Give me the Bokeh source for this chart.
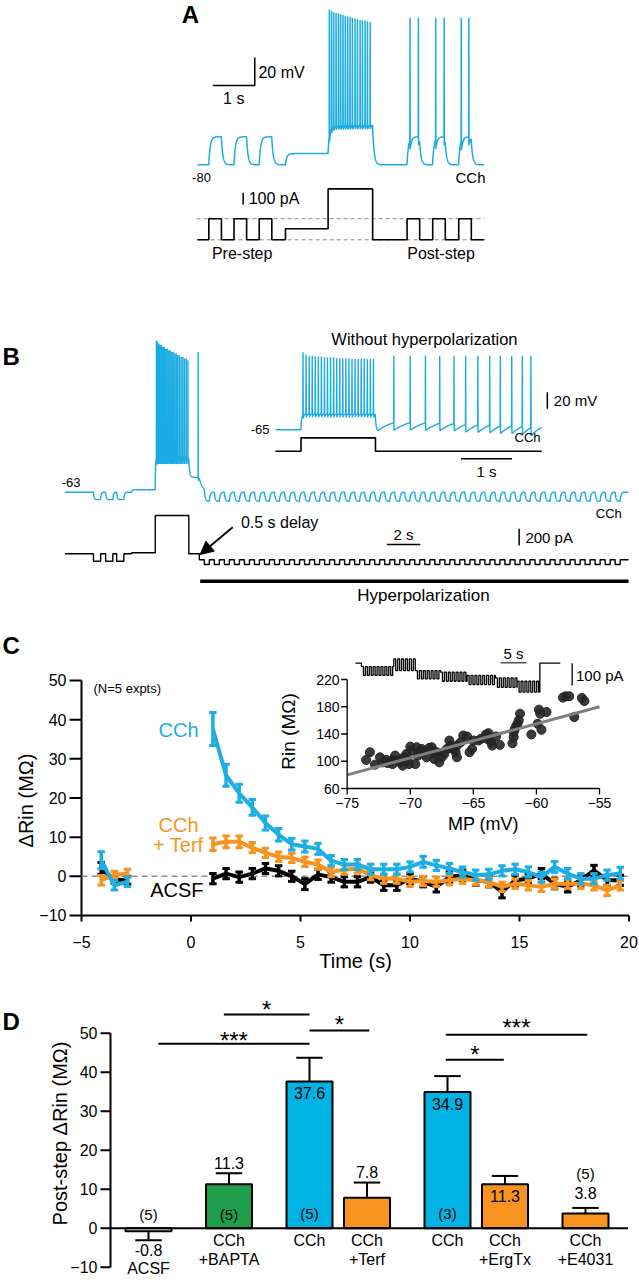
import numpy as np
from bokeh.plotting import figure
from bokeh.layouts import column
from bokeh.models import Range1d, Label, Arrow, NormalHead
from bokeh.embed import file_html
from bokeh.resources import INLINE

FONT = "Liberation Sans"
TRACE_BLUE = "#1AABE2"
LINE_BLUE = "#1DAEE4"
ORANGE = "#F7931E"
GREEN = "#1E9E4A"
BAR_BLUE = "#00B3E4"
W = 639

# ======================= DATA =======================
# ---- Panel A (times in s, voltage in mV, current in pA) ----
A_pre_pulse_on = [0.27, 0.87, 1.47]
A_post_pulse_on = [4.99, 5.60, 6.22]
A_pulse_width = 0.30
A_hold_on, A_step_on, A_step_off, A_end = 2.095, 3.11, 4.17, 6.83
A_V_rest, A_V_pulse, A_V_hold, A_V_step, A_V_post = -80.0, -60.0, -72.0, -50.7, -60.0
A_I_pulse, A_I_hold, A_I_step = 180.0, 95.0, 435.0
A_step_spk_t = [3.14, 3.19, 3.245, 3.30, 3.355, 3.41, 3.465, 3.52, 3.575, 3.63, 3.69, 3.75,
                3.81, 3.87, 3.93, 3.99, 4.05, 4.11]
A_step_spk_pk = [31, 30, 29, 28.5, 28, 27.5, 27, 26.5, 26, 25.5, 25, 24.5, 24, 23.5, 23, 23, 22.5, 22]
A_post_spk_t = [5.06, 5.26, 5.67, 5.87, 6.28, 6.46]
A_post_spk_pk = [25, 25, 25, 25, 25, 25]

# ---- Panel B main trace ----
B_pre_pulse_on = [1.71, 2.44, 3.10]
B_pre_width = 0.43
B_hold_on, B_step_on, B_step_off, B_hyper_on, B_end = 4.0, 5.41, 7.42, 8.05, 33.75
B_hyp_first, B_hyp_period, B_hyp_width = 8.35, 0.6, 0.3
B_V_rest, B_V_pre, B_V_hold, B_V_step, B_V_adp, B_V_hyp, B_V_hyp_pulse = -63, -67.5, -61.5, -41.8, -54, -63, -68.5
B_I_pre, B_I_hold, B_I_step, B_I_hyp, B_I_hyp_pulse = -89, 12, 459, -72, -128
B_step_spk_t = [5.48, 5.55, 5.63, 5.71, 5.79, 5.87, 5.95, 6.04, 6.13, 6.22, 6.31, 6.40, 6.49,
                6.58, 6.67, 6.76, 6.86, 6.96, 7.06, 7.16, 7.27, 7.37]
B_step_spk_pk = [29, 28, 27, 26, 26, 25, 25, 24, 24, 23, 23, 22, 22, 21, 21, 20, 20, 19, 19, 18, 18, 17]
B_post_spk_t = [7.98]
B_post_spk_pk = [22]

# ---- Panel B inset (without hyperpolarization) ----
Bi_step_on, Bi_step_off, Bi_end = 0.5, 1.96, 5.22
Bi_V_rest, Bi_V_step, Bi_V_post = -65, -45.8, -50
Bi_I_step = 160
Bi_step_spk_t = [0.54, 0.60, 0.66, 0.72, 0.78, 0.84, 0.90, 0.96, 1.02, 1.08, 1.14, 1.20, 1.26,
                 1.32, 1.38, 1.44, 1.50, 1.56, 1.62, 1.68, 1.74, 1.80, 1.86, 1.92]
Bi_step_spk_pk = [28, 25, 24, 24, 23, 23, 23, 22, 22, 22, 22, 21, 21, 21, 21, 21, 20, 20, 20,
                  20, 20, 20, 20, 20]
Bi_post_spk_t = [2.32, 2.64, 2.94, 3.22, 3.50, 3.73, 3.97, 4.20, 4.41, 4.63, 4.84, 5.01]
Bi_post_spk_pk = [24, 24, 24, 24, 24, 24, 24, 24, 24, 24, 24, 24]

# ---- Panel C main ----
C_t_pre = [-4.1, -3.5, -2.9]
C_t_post = [1.0, 1.6, 2.2, 2.8, 3.4, 4.0, 4.6, 5.2, 5.8, 6.4, 7.0, 7.6, 8.2, 8.8, 9.4, 10.0,
            10.6, 11.2, 11.8, 12.4, 13.0, 13.6, 14.2, 14.8, 15.4, 16.0, 16.6, 17.2, 17.8, 18.4,
            19.0, 19.6]
CCh_pre = [4.1, -2.3, -1.4]
CCh_pre_sem = [2.2, 1.2, 1.2]
CCh_post = [37.6, 25.8, 21.2, 17.6, 13.6, 10.6, 8.2, 7.6, 7.0, 4.0, 3.0, 3.0, 1.8, 1.8, 1.8,
            2.4, 3.7, 2.8, 2.0, 1.1, 0.3, 0.5, 1.4, 1.8, 1.1, -0.2, 2.4, 0.7, -0.6, -0.6, 0.3, 0.8]
CCh_post_sem = [4.2, 2.8, 2.3, 2.0, 1.8, 1.6, 1.5, 1.4, 1.4, 1.3, 1.3, 1.3, 1.3, 1.3, 1.3, 1.3,
                1.4, 1.3, 1.3, 1.3, 1.3, 1.3, 1.3, 1.3, 1.3, 1.3, 1.4, 1.3, 1.3, 1.3, 1.3, 1.5]
Terf_pre = [-1.0, 0.3, 0.8]
Terf_pre_sem = [1.2, 1.0, 1.0]
Terf_post = [8.2, 8.8, 8.8, 7.3, 6.0, 5.0, 4.7, 3.7, 3.0, 1.1, 1.7, 2.0, 0.3, -0.6, -0.6, -1.4,
             -1.2, -1.4, -1.0, -0.6, -1.0, -1.4, -2.7, -1.9, -2.3, -2.7, -1.9, -1.9, -1.9, -2.3,
             -3.6, -2.3]
Terf_post_sem = [1.6, 1.5, 1.5, 1.3, 1.2, 1.2, 1.2, 1.2, 1.2, 1.2, 1.2, 1.2, 1.2, 1.2, 1.2, 1.2,
                 1.2, 1.2, 1.2, 1.2, 1.2, 1.2, 1.2, 1.2, 1.2, 1.2, 1.2, 1.2, 1.2, 1.2, 1.3, 1.2]
ACSF_pre = [2.0, -0.8, -1.0]
ACSF_pre_sem = [1.5, 1.0, 1.0]
ACSF_post = [-0.6, 0.7, -0.2, 0.7, 2.0, 1.4, 0.0, -2.0, 0.5, -0.2, -1.4, -1.4, -0.2, -2.3, -2.3,
             -0.6, -1.4, -2.7, -0.2, 0.3, -1.0, -1.4, -4.0, -1.0, -0.6, 0.7, -1.9, -2.7, -1.0,
             1.5, -1.0, -1.0]
ACSF_post_sem = [1.3, 1.3, 1.3, 1.3, 1.3, 1.3, 1.3, 1.4, 1.3, 1.3, 1.3, 1.3, 1.3, 1.3, 1.3, 1.3,
                 1.3, 1.3, 1.3, 1.3, 1.3, 1.3, 1.5, 1.3, 1.3, 1.3, 1.3, 1.3, 1.3, 1.3, 1.3, 1.3]
C_xticks = [-5, 0, 5, 10, 15, 20]
C_yticks = [-10, 0, 10, 20, 30, 40, 50]

# ---- Panel C inset: Rin vs membrane potential ----
MP = [-73.5, -73.2, -72.8, -72.4, -72.2, -71.8, -71.4, -71.2, -70.8, -70.6, -70.5, -70.3, -70.2,
      -70.0, -69.9, -69.6, -69.4, -69.2, -69.1, -68.9, -68.7, -68.5, -68.3, -68.1, -68.0, -67.9,
      -67.7, -67.5, -67.1, -66.9, -66.8, -66.6, -66.4, -66.3, -66.0, -65.8, -65.5, -65.3, -65.1,
      -65.0, -64.6, -64.4, -64.0, -63.8, -63.6, -63.5, -63.2, -62.9, -61.9, -61.8, -61.7, -61.5,
      -61.4, -61.3, -60.4, -59.9, -59.8, -59.7, -59.6, -59.2, -57.9, -57.7, -57.4, -57.0, -56.4,
      -56.2, -61.8, -61.6, -67.3, -71.4, -71.9, -71.0, -70.1, -66.3, -63.9, -68.3, -69.5]
Rin = [101.9, 113.2, 95.0, 105.8, 98.4, 97.4, 101.9, 108.3, 98.4, 93.5, 105.8, 110.7, 100.9,
       121.5, 115.6, 95.9, 108.3, 114.7, 118.1, 113.2, 105.8, 119.6, 116.6, 103.3, 110.7, 113.2,
       98.4, 105.8, 118.1, 130.4, 123.0, 118.1, 113.2, 105.8, 127.9, 137.8, 136.3, 113.2, 118.1,
       130.4, 130.4, 132.9, 139.3, 141.2, 127.9, 123.0, 136.3, 124.0, 126.5, 135.3, 147.6, 155.0,
       160.0, 169.8, 139.3, 155.0, 175.7, 169.8, 146.2, 172.3, 193.4, 195.4, 195.4, 164.9, 192.9,
       188.5, 142.7, 151.6, 110.7, 95.9, 101.9, 100.9, 95.9, 123.0, 132.9, 120.6, 120.6]
fit_mp = [-75.0, -55.0]
fit_slope, fit_at_minus75 = 5.0, 80.0
Ci_xticks = [-75, -70, -65, -60, -55]
Ci_yticks = [60, 100, 140, 180, 220]
# inset staircase current protocol (s, pA)
Ci_seg_t = [0.0, 1.15, 7.37, 11.54, 16.35, 21.47, 26.92, 31.09, 35.45]
Ci_hi = [0, -15, 19, -33, -40, -55, -66, -81, 0]
Ci_lo = [0, -55, -33, -70, -81, -96, -108, -130, 0]
Ci_end, Ci_period = 39.4, 0.75

# ---- Panel D ----
D_groups = ["g1", "g2", "g3", "g3", "g4", "g4", "g5"]
D_conditions = ["ACSF", "CCh+BAPTA", "CCh", "CCh+Terf", "CCh", "CCh+ErgTx", "CCh+E4031"]
D_values = [-0.8, 11.3, 37.6, 7.8, 34.9, 11.3, 3.8]
D_sem = [2.3, 2.8, 6.1, 3.9, 4.1, 2.1, 1.4]
D_n = ["(5)", "(5)", "(5)", "", "(3)", "", "(5)"]
D_colors = ["white", GREEN, BAR_BLUE, ORANGE, BAR_BLUE, ORANGE, ORANGE]
D_line1 = ["", "CCh", "CCh", "CCh", "CCh", "CCh", "CCh"]
D_line2 = ["ACSF", "+BAPTA", "", "+Terf", "", "+ErgTx", "+E4031"]
D_yticks = [-10, 0, 10, 20, 30, 40, 50]
# significance: (from index, from offset, to index, to offset, height, stars)
D_sig = [(1, -0.09, 2, 0.0, 54.79, "*"), (0, 0.17, 2, 0.0, 47.28, "***"),
         (2, 0.0, 3, 0.04, 50.69, "*"), (4, -0.03, 6, 0.03, 49.59, "***"),
         (4, -0.03, 5, -0.02, 43.18, "*")]

# ======================= HELPERS =======================
def rc_trace(t_end, seg_t, seg_v, seg_tau, spk_t, spk_pk, spk_ahp, dt=0.004):
    n = int(round(t_end / dt)) + 1
    t = np.arange(n) * dt
    k = np.clip(np.searchsorted(np.asarray(seg_t, float), t, side="right") - 1, 0, len(seg_t) - 1)
    tgt = np.asarray(seg_v, float)[k]
    dec = np.exp(-dt / np.asarray(seg_tau, float)[k])
    spikes = {}
    for ts, pk, ah in zip(spk_t, spk_pk, spk_ahp):
        spikes[int(round(ts / dt))] = (pk, ah)
    v = np.empty(n)
    v[0] = seg_v[0]
    i = 1
    while i < n:
        if i in spikes and i + 1 < n:
            pk, ah = spikes[i]
            v[i] = pk
            v[i + 1] = v[i - 1] - ah
            i += 2
            continue
        v[i] = tgt[i] + (v[i - 1] - tgt[i]) * dec[i]
        i += 1
    return t, v


def step_line(seg_t, seg_lv, t_end):
    xs, ys = [], []
    for k, (t0, lv) in enumerate(zip(seg_t, seg_lv)):
        t1 = seg_t[k + 1] if k + 1 < len(seg_t) else t_end
        xs += [t0, t1]
        ys += [lv, lv]
    return xs, ys


def split_events(ev):
    ev = sorted(ev, key=lambda e: e[0])
    return [list(c) for c in zip(*ev)]


def blank_fig(h, xr, yr):
    p = figure(width=W, height=h, x_range=Range1d(*xr), y_range=Range1d(*yr),
               output_backend="svg", toolbar_location=None, x_axis_location=None,
               y_axis_location=None, min_border=0, outline_line_color=None)
    p.xgrid.visible = False
    p.ygrid.visible = False
    return p


def lab(p, x, y, text, size, align="center", baseline="middle", bold=False, angle=0.0,
        color="black", xr="default", yr="default"):
    p.add_layout(Label(x=x, y=y, text=text, x_range_name=xr, y_range_name=yr, text_font=FONT,
                       text_font_size=f"{size}px", text_align=align, text_baseline=baseline,
                       text_font_style="bold" if bold else "normal", angle=angle,
                       text_color=color))


def minus(v):
    return str(v).replace("-", "\u2212")


# ======================= PANEL A =======================
A_tau = 0.035
evA = [(0.0, A_V_rest, 0.0, A_tau)]
for on in A_pre_pulse_on:
    evA += [(on, A_V_pulse, A_I_pulse, A_tau), (on + A_pulse_width, A_V_rest, 0.0, A_tau)]
evA += [(A_hold_on, A_V_hold, A_I_hold, A_tau), (A_step_on, A_V_step, A_I_step, A_tau),
        (A_step_off, A_V_rest, 0.0, A_tau)]
for on in A_post_pulse_on:
    evA += [(on, A_V_post, A_I_pulse, A_tau), (on + A_pulse_width, A_V_rest, 0.0, A_tau)]
sA_t, sA_v, sA_i, sA_tau = split_events(evA)
tA, vA = rc_trace(A_end, sA_t, sA_v, sA_tau, A_step_spk_t + A_post_spk_t,
                  A_step_spk_pk + A_post_spk_pk, [3] * len(A_step_spk_t) + [6] * len(A_post_spk_t))
iAx, iAy = step_line(sA_t, sA_i, A_end)

pA = blank_fig(300, (-4.690, 10.524), (-176.93, 37.36))
pA.extra_y_ranges = {"I": Range1d(-518.8, 2045.3)}
pA.segment(x0=[-0.02, -0.02], y0=[0, A_I_pulse], x1=[A_end, A_end], y1=[0, A_I_pulse],
           y_range_name="I", line_color="#8a8a8a", line_dash="4 3", line_width=1)
pA.line(tA, vA, line_color=TRACE_BLUE, line_width=1.5)
pA.line(iAx, iAy, line_color="black", line_width=1.6, y_range_name="I")
pA.line([0.364, 0.364 + 1.0, 0.364 + 1.0], [-23.36, -23.36, -23.36 + 20.0], line_color="black",
        line_width=1.5)
pA.line([1.088, 1.088], [302, 302 + 100], y_range_name="I", line_color="black", line_width=1.5)
lab(pA, -0.167, 27.7, "A", 24, bold=True)
lab(pA, 0.864, -32.3, "1 s", 16)
lab(pA, 1.45, -13.9, "20 mV", 16, align="left")
lab(pA, 0.095, -89.1, "-80", 13)
lab(pA, 6.857, -88.9, "CCh", 15, align="right")
lab(pA, 1.22, 357, "100 pA", 16, align="left", yr="I")
lab(pA, 1.064, -117, "Pre-step", 16, yr="I")
lab(pA, 5.80, -117, "Post-step", 16, yr="I")

# ======================= PANEL B =======================
tauB = 0.04
evB = [(0.0, B_V_rest, 0, tauB)]
for on in B_pre_pulse_on:
    evB += [(on, B_V_pre, B_I_pre, tauB), (on + B_pre_width, B_V_rest, 0, tauB)]
evB += [(B_hold_on, B_V_hold, B_I_hold, tauB), (B_step_on, B_V_step, B_I_step, 0.02),
        (B_step_off, B_V_adp, 0, 0.05), (B_hyper_on, B_V_hyp, B_I_hyp, 0.2)]
for on in np.arange(B_hyp_first, B_end - 0.2, B_hyp_period):
    evB += [(on, B_V_hyp_pulse, B_I_hyp_pulse, 0.05), (on + B_hyp_width, B_V_hyp, B_I_hyp, 0.05)]
sB_t, sB_v, sB_i, sB_tau = split_events(evB)
tB, vB = rc_trace(B_end, sB_t, sB_v, sB_tau, B_step_spk_t + B_post_spk_t,
                  B_step_spk_pk + B_post_spk_pk, [4] * len(B_step_spk_t) + [2])
iBx, iBy = step_line(sB_t, sB_i, B_end)

evBi = [(0.0, Bi_V_rest, 0, 0.03), (Bi_step_on, Bi_V_step, Bi_I_step, 0.015),
        (Bi_step_off, -66, 0, 0.015), (Bi_step_off + 0.06, Bi_V_post, 0, 0.35)]
sBi_t, sBi_v, sBi_i, sBi_tau = split_events(evBi)
tBi, vBi = rc_trace(Bi_end, sBi_t, sBi_v, sBi_tau, Bi_step_spk_t + Bi_post_spk_t,
                    Bi_step_spk_pk + Bi_post_spk_pk,
                    [4] * len(Bi_step_spk_t) + [9] * len(Bi_post_spk_t))
iBix, iBiy = step_line(sBi_t, sBi_i, Bi_end)

pB = blank_fig(330, (-3.856, 34.407), (-146.82, 53.18))
pB.extra_x_ranges = {"xi": Range1d(-5.392, 7.137)}
pB.extra_y_ranges = {"Ib": Range1d(-918.6, 3033.5), "vi": Range1d(-305.9, 90.2),
                     "ii": Range1d(-2147.3, 1804.8)}
pB.line(tB, vB, line_color=TRACE_BLUE, line_width=1.4)
pB.line(iBx, iBy, line_color="black", line_width=1.4, y_range_name="Ib")
pB.line(tBi, vBi, line_color=TRACE_BLUE, line_width=1.4, x_range_name="xi", y_range_name="vi")
pB.line(iBix, iBiy, line_color="black", line_width=1.6, x_range_name="xi", y_range_name="ii")
pB.line([B_hyper_on + 0.05, B_end], [-328, -328], y_range_name="Ib", line_color="black",
        line_width=3.5)
pB.line([19.28, 19.28 + 2.0], [111, 111], y_range_name="Ib", line_color="black", line_width=1.5)
pB.line([27.2, 27.2], [100, 100 + 200], y_range_name="Ib", line_color="black", line_width=1.5)
pB.line([5.33, 5.33], [-39.8, -39.8 + 20], x_range_name="xi", y_range_name="vi",
        line_color="black", line_width=1.5)
pB.line([3.637, 3.637 + 1.0], [-91, -91], x_range_name="xi", y_range_name="ii",
        line_color="black", line_width=1.5)
pB.add_layout(Arrow(end=NormalHead(size=13, fill_color="black", line_color="black"),
                    x_start=10.05, y_start=318.6, x_end=8.1, y_end=-8.4, y_range_name="Ib",
                    line_width=1.8, line_color="black"))
lab(pB, -3.737, 19.5, "B", 24, align="left", bold=True)
lab(pB, 0.934, -56.9, "-63", 13, align="right")
lab(pB, 33.35, -76.1, "CCh", 13, align="right")
lab(pB, 10.54, 369, "0.5 s delay", 16, align="left", yr="Ib")
lab(pB, 20.28, 237, "2 s", 15, yr="Ib")
lab(pB, 27.575, 199, "200 pA", 15, align="left", yr="Ib")
lab(pB, 21.47, -499, "Hyperpolarization", 17, yr="Ib")
lab(pB, 2.92, 44.2, "Without hyperpolarization", 16.5, xr="xi", yr="vi")
lab(pB, -0.118, -64.6, "-65", 13, align="right", xr="xi", yr="vi")
lab(pB, 5.196, -73.9, "CCh", 13, align="right", xr="xi", yr="vi")
lab(pB, 5.457, -29.8, "20 mV", 15, align="left", xr="xi", yr="vi")
lab(pB, 4.137, -243, "1 s", 15, xr="xi", yr="ii")

# ======================= PANEL C =======================
pC = blank_fig(355, (-8.699, 20.479), (-27.88, 62.76))
pC.extra_x_ranges = {"mp": Range1d(-102.48, -51.83), "ti": Range1d(-68.27, 54.62)}
pC.extra_y_ranges = {"rin": Range1d(-229.17, 291.93), "ci": Range1d(-1445.3, 146.6)}
CX0, CY0 = C_xticks[0], C_yticks[0]
pC.line([CX0, CX0, C_xticks[-1]], [C_yticks[-1], CY0, CY0], line_color="black", line_width=2)
pC.segment(x0=[CX0] * len(C_yticks), y0=C_yticks, x1=[CX0 - 0.548] * len(C_yticks),
           y1=C_yticks, line_color="black", line_width=2)
pC.segment(x0=C_xticks, y0=[CY0] * len(C_xticks), x1=C_xticks, y1=[CY0 - 1.53] * len(C_xticks),
           line_color="black", line_width=2)
for yt in C_yticks:
    lab(pC, CX0 - 0.685, yt, minus(yt), 16, align="right")
for xt in C_xticks:
    lab(pC, xt, -16.65, minus(xt), 16)
lab(pC, 7.511, -21.75, "Time (s)", 20)
lab(pC, -7.557, 19.35, "\u0394Rin (M\u03a9)", 20, angle=np.pi / 2)
lab(pC, -8.608, 59.05, "C", 24, align="left", bold=True)

pC.line([-5, 20], [0, 0], line_color="#8c8c8c", line_dash="6 4", line_width=1.5)


def series(p, xs, ys, sem, color):
    p.line(xs, ys, line_color=color, line_width=4)
    lo = [y - s for y, s in zip(ys, sem)]
    hi = [y + s for y, s in zip(ys, sem)]
    p.segment(x0=xs, y0=lo, x1=xs, y1=hi, line_color=color, line_width=3.5)
    cx0 = [x - 0.17 for x in xs]
    cx1 = [x + 0.17 for x in xs]
    p.segment(x0=cx0 + cx0, y0=lo + hi, x1=cx1 + cx1, y1=lo + hi, line_color=color, line_width=3)


for pre, pre_s, post, post_s, col in ((ACSF_pre, ACSF_pre_sem, ACSF_post, ACSF_post_sem, "black"),
                                      (Terf_pre, Terf_pre_sem, Terf_post, Terf_post_sem, ORANGE),
                                      (CCh_pre, CCh_pre_sem, CCh_post, CCh_post_sem, LINE_BLUE)):
    series(pC, C_t_pre, pre, pre_s, col)
    series(pC, C_t_post, post, post_s, col)

lab(pC, -4.452, 47.9, "(N=5 expts)", 13, align="left")
lab(pC, 0.342, 37.35, "CCh", 20, align="right", color=LINE_BLUE)
lab(pC, 0.342, 13.2, "CCh", 20, align="right", color=ORANGE)
lab(pC, 0.571, 8.1, "+ Terf", 20, align="right", color=ORANGE)
lab(pC, 0.571, -3.4, "ACSF", 20, align="right")

pC.scatter(MP, Rin, size=9, fill_color="#262626", line_color="#262626", fill_alpha=0.9,
           x_range_name="mp", y_range_name="rin")
pC.line(fit_mp, [fit_at_minus75 + fit_slope * (m - fit_mp[0]) for m in fit_mp],
        line_color="#7f7f7f", line_width=3, x_range_name="mp", y_range_name="rin")
pC.line([Ci_xticks[-1], Ci_xticks[0], Ci_xticks[0]], [Ci_yticks[0], Ci_yticks[0], Ci_yticks[-1]],
        line_color="black", line_width=1.3, x_range_name="mp", y_range_name="rin")
pC.segment(x0=Ci_xticks, y0=[Ci_yticks[0]] * 5, x1=Ci_xticks, y1=[Ci_yticks[0] - 8.8] * 5,
           line_color="black", line_width=1.3, x_range_name="mp", y_range_name="rin")
pC.segment(x0=[Ci_xticks[0]] * 5, y0=Ci_yticks, x1=[Ci_xticks[0] - 0.48] * 5, y1=Ci_yticks,
           line_color="black", line_width=1.3, x_range_name="mp", y_range_name="rin")
for xt in Ci_xticks:
    lab(pC, xt, 38.0, minus(xt), 14, xr="mp", yr="rin")
for yt in Ci_yticks:
    lab(pC, -75.6, yt, str(yt), 14, align="right", xr="mp", yr="rin")
lab(pC, -64.2, 8.6, "MP (mV)", 18, xr="mp", yr="rin")
lab(pC, -79.65, 143.7, "Rin (M\u03a9)", 19, angle=np.pi / 2, xr="mp", yr="rin")

cix, ciy = [], []
for k, t0 in enumerate(Ci_seg_t):
    t1 = Ci_seg_t[k + 1] if k + 1 < len(Ci_seg_t) else Ci_end
    if Ci_hi[k] == Ci_lo[k]:
        cix += [t0, t1]
        ciy += [Ci_hi[k], Ci_hi[k]]
    else:
        tt, state = t0, 0
        while tt < t1 - 1e-9:
            tn = min(tt + Ci_period / 2, t1)
            lv = Ci_hi[k] if state == 0 else Ci_lo[k]
            cix += [tt, tn]
            ciy += [lv, lv]
            tt, state = tn, 1 - state
pC.line(cix, ciy, line_color="black", line_width=1.3, x_range_name="ti", y_range_name="ci")
pC.line([27.88, 27.88 + 5.0], [2, 2], line_color="#555555", line_width=1.3, x_range_name="ti",
        y_range_name="ci")
pC.line([41.67, 41.67], [-100, 0], line_color="black", line_width=1.3, x_range_name="ti",
        y_range_name="ci")
lab(pC, 30.38, 45.7, "5 s", 15, xr="ti", yr="ci")
lab(pC, 42.4, -55, "100 pA", 15, align="left", xr="ti", yr="ci")

# ======================= PANEL D =======================
GP = 0.40                      # gap between condition groups (in bar slots)
D_x = []
xx, prev = 0.0, None
for g in D_groups:
    if prev is not None and g != prev:
        xx += GP
    D_x.append(xx + 0.5)
    xx += 1.0
    prev = g
UNIT = 57.5                    # px per bar slot
DX_START = D_x[0] - 148 / UNIT
DX_END = DX_START + W / UNIT
D_AX = DX_START + 110 / UNIT   # position of the y axis

pD = blank_fig(295, (DX_START, DX_END), (-13.41, 62.23))
pD.vbar(x=D_x, top=D_values, bottom=0, width=0.8, fill_color=D_colors, line_color="black",
        line_width=2)
pD.line([D_AX, DX_START + 627.5 / UNIT], [0, 0], line_color="black", line_width=2)
err_end = [v + (s if v >= 0 else -s) for v, s in zip(D_values, D_sem)]
pD.segment(x0=D_x, y0=D_values, x1=D_x, y1=err_end, line_color="black", line_width=2)
pD.segment(x0=[x - 0.23 for x in D_x], y0=err_end, x1=[x + 0.23 for x in D_x], y1=err_end,
           line_color="black", line_width=2)
pD.line([D_AX, D_AX], [D_yticks[0], D_yticks[-1]], line_color="black", line_width=2)
pD.segment(x0=[D_AX] * len(D_yticks), y0=D_yticks, x1=[D_AX - 10 / UNIT] * len(D_yticks),
           y1=D_yticks, line_color="black", line_width=2)
for yt in D_yticks:
    lab(pD, D_AX - 13 / UNIT, yt, minus(yt), 16, align="right")
lab(pD, DX_START + 59 / UNIT, 24.28, "Post-step \u0394Rin (M\u03a9)", 20, angle=np.pi / 2)
lab(pD, DX_START + 2 / UNIT, 53.0, "D", 24, align="left", bold=True)

star_y = [56.2, 48.0, 52.3, 51.4, 44.6]
for (a, oa, b, ob, h, txt), sy in zip(D_sig, star_y):
    xa, xb = D_x[a] + oa, D_x[b] + ob
    pD.line([xa, xb], [h, h], line_color="black", line_width=2)
    lab(pD, (xa + xb) / 2, sy, txt, 24)

val_y = [-5.6, 16.7, 34.6, 14.5, 31.9, 8.3, 9.0]
n_y = [3.4, 3.4, 3.85, 0, 3.85, 0, 14.1]
for i, x in enumerate(D_x):
    lab(pD, x, val_y[i], f"{D_values[i]:.1f}", 16)
    if D_n[i]:
        lab(pD, x, n_y[i], D_n[i], 15)
    if D_line1[i]:
        lab(pD, x, -3.2, D_line1[i], 16)
    if D_line2[i]:
        lab(pD, x, -8.1 if D_line1[i] else -10.4, D_line2[i], 16)

layout = column(pA, pB, pC, pD, spacing=0)
open("out.html", "w").write(file_html(layout, INLINE))
